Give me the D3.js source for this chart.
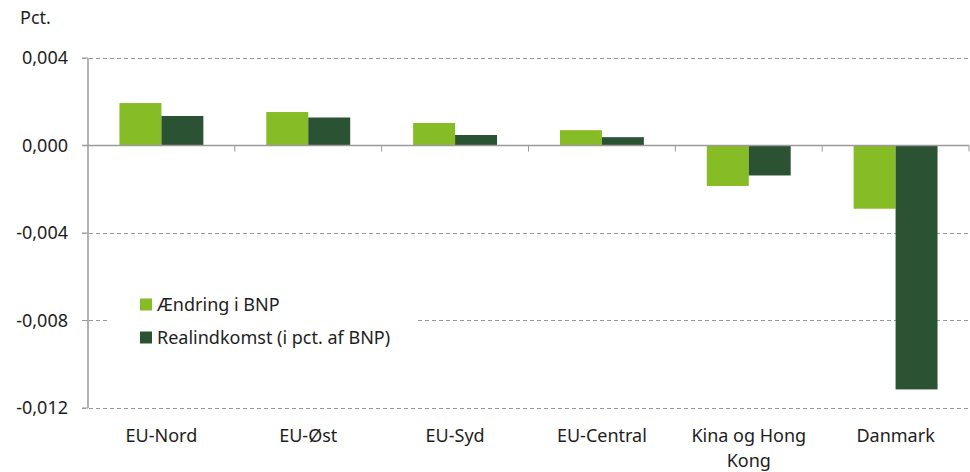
<!DOCTYPE html>
<html>
<head>
<meta charset="utf-8">
<script src="https://cdn.jsdelivr.net/npm/d3@7"></script>
<style>
  body { margin: 0; background: #fff; }
  svg { display: block; font-family: 'Noto Sans', 'Open Sans', sans-serif; }
</style>
</head>
<body>
<div id="chart"></div>
<script>
// Data
const categories = ['EU-Nord', 'EU-Øst', 'EU-Syd', 'EU-Central', 'Kina og Hong Kong', 'Danmark'];
const bnp = [0.00194, 0.00153, 0.00103, 0.00070, -0.00185, -0.00289];
const realindkomst = [0.00135, 0.00128, 0.00048, 0.00038, -0.00137, -0.01115];
const seriesNames = ['Ændring i BNP', 'Realindkomst (i pct. af BNP)'];
const yTicks = [0.004, 0, -0.004, -0.008, -0.012];

const width = 970, height = 472;
const margin = { top: 58, right: 1, bottom: 64, left: 88 };
const colors = ['#86bc25', '#2c5234'];
const fontSize = 18;
const textColor = '#1e1e1e';
const gridColor = '#9a9a9a';

const svg = d3.select('#chart').append('svg')
  .attr('width', width).attr('height', height);

const x = d3.scaleBand()
  .domain(categories)
  .range([margin.left, width - margin.right])
  .paddingInner(0).paddingOuter(0);

const x1 = d3.scaleBand()
  .domain([0, 1])
  .range([0, x.bandwidth()])
  .paddingOuter(0.75).paddingInner(0);

const y = d3.scaleLinear()
  .domain([-0.012, 0.004])
  .range([height - margin.bottom, margin.top]);

const fmt = v => d3.format('.3f')(v).replace('.', ',').replace('−', '-');

// Gridlines (dashed)
svg.append('g')
  .selectAll('line')
  .data(yTicks.filter(d => d !== 0))
  .join('line')
  .attr('x1', margin.left - 6).attr('x2', width - margin.right)
  .attr('y1', d => y(d)).attr('y2', d => y(d))
  .attr('stroke', gridColor).attr('stroke-width', 1)
  .attr('stroke-dasharray', '4,3')
  .attr('shape-rendering', 'crispEdges');

// Y tick labels
svg.append('g')
  .selectAll('text')
  .data(yTicks)
  .join('text')
  .attr('x', margin.left - 20)
  .attr('y', d => y(d))
  .attr('dy', '0.35em')
  .attr('text-anchor', 'end')
  .attr('font-size', fontSize)
  .attr('fill', textColor)
  .text(fmt);

// Unit label
svg.append('text')
  .attr('x', 20).attr('y', 24)
  .attr('font-size', fontSize)
  .attr('fill', textColor)
  .text('Pct.');

// Bars
const rows = categories.map((c, i) => ({ cat: c, vals: [bnp[i], realindkomst[i]] }));
const groups = svg.append('g')
  .selectAll('g')
  .data(rows)
  .join('g')
  .attr('transform', d => `translate(${x(d.cat)},0)`);

groups.selectAll('rect')
  .data(d => d.vals.map((v, s) => ({ v, s })))
  .join('rect')
  .attr('x', d => x1(d.s))
  .attr('width', x1.bandwidth())
  .attr('y', d => y(Math.max(0, d.v)))
  .attr('height', d => Math.abs(y(d.v) - y(0)))
  .attr('fill', d => colors[d.s]);

// Zero line with category ticks
svg.append('line')
  .attr('x1', margin.left - 6).attr('x2', width - margin.right)
  .attr('y1', y(0)).attr('y2', y(0))
  .attr('stroke', gridColor).attr('stroke-width', 1.5);

svg.append('g')
  .selectAll('line')
  .data(categories.slice(1).map(c => x(c)).concat([width - margin.right]))
  .join('line')
  .attr('x1', d => d).attr('x2', d => d)
  .attr('y1', y(0)).attr('y2', y(0) + 6)
  .attr('stroke', gridColor).attr('stroke-width', 1);

// Y axis line
svg.append('line')
  .attr('x1', margin.left).attr('x2', margin.left)
  .attr('y1', y(0.004)).attr('y2', y(-0.012))
  .attr('stroke', gridColor).attr('stroke-width', 1.5);

// Y axis tick marks
svg.append('g')
  .selectAll('line')
  .data(yTicks)
  .join('line')
  .attr('x1', margin.left - 6).attr('x2', margin.left)
  .attr('y1', d => y(d)).attr('y2', d => y(d))
  .attr('stroke', gridColor).attr('stroke-width', 1);

// X labels (wrapped)
const wrap = { 'Kina og Hong Kong': ['Kina og Hong', 'Kong'] };
svg.append('g')
  .selectAll('text')
  .data(categories)
  .join('text')
  .attr('x', d => x(d) + x.bandwidth() / 2)
  .attr('y', 442)
  .attr('text-anchor', 'middle')
  .attr('font-size', fontSize)
  .attr('fill', textColor)
  .each(function (d) {
    const lines = wrap[d] || [d];
    d3.select(this).selectAll('tspan')
      .data(lines)
      .join('tspan')
      .attr('x', x(d) + x.bandwidth() / 2)
      .attr('dy', (l, i) => i === 0 ? 0 : 24.5)
      .text(l => l);
  });

// Legend with white background
const legend = svg.append('g').attr('transform', 'translate(110,285)');
legend.append('rect')
  .attr('width', 305).attr('height', 70)
  .attr('fill', '#fff');
seriesNames.forEach((name, i) => {
  const row = legend.append('g').attr('transform', `translate(30,${19.5 + i * 33})`);
  row.append('rect')
    .attr('x', 0).attr('y', -6)
    .attr('width', 12).attr('height', 12)
    .attr('fill', colors[i]);
  row.append('text')
    .attr('x', 17).attr('y', 0)
    .attr('dy', '0.35em')
    .attr('font-size', fontSize)
    .attr('fill', textColor)
    .text(name);
});
</script>
</body>
</html>
